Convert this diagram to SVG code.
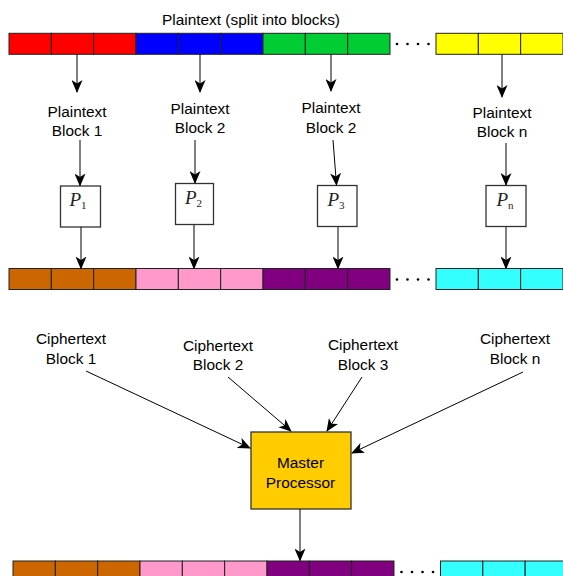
<svg xmlns="http://www.w3.org/2000/svg" width="563" height="576" viewBox="0 0 563 576">
<style>
  .t { font-family: "Liberation Sans", Arial, sans-serif; font-size: 15.4px; fill: #000; text-anchor: middle; }
  .cell { stroke: #222; stroke-width: 1; }
  .red { fill: #FF0000; } .blue { fill: #0000FF; } .green { fill: #00CC33; } .yellow { fill: #FFFF00; }
  .orange { fill: #CC6600; } .pink { fill: #FF99CC; } .purple { fill: #800080; } .cyan { fill: #33FFFF; }
  .pbox { fill: #fff; stroke: #333; stroke-width: 1.3; }
  .pl { font-family: "Liberation Serif", "Times New Roman", serif; font-style: italic; font-size: 19px; fill: #222; text-anchor: middle; }
  .sub { font-style: normal; font-size: 11px; }
  .edge { stroke: #000; stroke-width: 1; fill: none; marker-end: url(#arr); }
  .dot { fill: #000; }
</style>
<defs>
  <marker id="arr" markerUnits="userSpaceOnUse" viewBox="0 0 13 11" refX="12" refY="5.5" markerWidth="13" markerHeight="11" orient="auto">
    <path d="M0,0 L13,5.5 L0,11 L3.5,5.5 z" fill="#000"/>
  </marker>
</defs>

<text class="t" x="251" y="25">Plaintext (split into blocks)</text>

<g id="plaintext-bar">
  <rect class="cell red" x="9" y="33.3" width="42.33" height="21"/>
  <rect class="cell red" x="51.33" y="33.3" width="42.33" height="21"/>
  <rect class="cell red" x="93.66" y="33.3" width="42.33" height="21"/>
  <rect class="cell blue" x="136" y="33.3" width="42.33" height="21"/>
  <rect class="cell blue" x="178.33" y="33.3" width="42.33" height="21"/>
  <rect class="cell blue" x="220.66" y="33.3" width="42.33" height="21"/>
  <rect class="cell green" x="263" y="33.3" width="42.33" height="21"/>
  <rect class="cell green" x="305.33" y="33.3" width="42.33" height="21"/>
  <rect class="cell green" x="347.66" y="33.3" width="42.33" height="21"/>
  <circle class="dot" cx="397" cy="44" r="1.3"/>
  <circle class="dot" cx="407.5" cy="44" r="1.3"/>
  <circle class="dot" cx="418" cy="44" r="1.3"/>
  <circle class="dot" cx="428.5" cy="44" r="1.3"/>
  <rect class="cell yellow" x="436" y="33.3" width="42.33" height="21"/>
  <rect class="cell yellow" x="478.33" y="33.3" width="42.33" height="21"/>
  <rect class="cell yellow" x="520.66" y="33.3" width="42.33" height="21"/>
</g>

<g id="label-pb1"><text class="t" x="77" y="117">Plaintext</text><text class="t" x="77" y="136">Block 1</text></g>
<g id="label-pb2"><text class="t" x="200" y="114">Plaintext</text><text class="t" x="200" y="133">Block 2</text></g>
<g id="label-pb3"><text class="t" x="331" y="113">Plaintext</text><text class="t" x="331" y="133">Block 2</text></g>
<g id="label-pbn"><text class="t" x="502" y="118">Plaintext</text><text class="t" x="502" y="137">Block n</text></g>

<g id="p1"><rect class="pbox" x="60.5" y="186" width="40" height="41"/><text class="pl" x="78" y="206">P<tspan class="sub" dy="3">1</tspan></text></g>
<g id="p2"><rect class="pbox" x="175.5" y="183.5" width="38" height="41"/><text class="pl" x="193.5" y="204">P<tspan class="sub" dy="3">2</tspan></text></g>
<g id="p3"><rect class="pbox" x="317.5" y="185.5" width="39.5" height="41"/><text class="pl" x="336" y="206">P<tspan class="sub" dy="3">3</tspan></text></g>
<g id="pn"><rect class="pbox" x="486" y="185.5" width="40" height="41"/><text class="pl" x="505" y="206">P<tspan class="sub" dy="3" font-style="italic">n</tspan></text></g>

<g id="ciphertext-bar">
  <rect class="cell orange" x="9" y="268.5" width="42.33" height="21"/>
  <rect class="cell orange" x="51.33" y="268.5" width="42.33" height="21"/>
  <rect class="cell orange" x="93.66" y="268.5" width="42.33" height="21"/>
  <rect class="cell pink" x="136" y="268.5" width="42.33" height="21"/>
  <rect class="cell pink" x="178.33" y="268.5" width="42.33" height="21"/>
  <rect class="cell pink" x="220.66" y="268.5" width="42.33" height="21"/>
  <rect class="cell purple" x="263" y="268.5" width="42.33" height="21"/>
  <rect class="cell purple" x="305.33" y="268.5" width="42.33" height="21"/>
  <rect class="cell purple" x="347.66" y="268.5" width="42.33" height="21"/>
  <circle class="dot" cx="397" cy="279.5" r="1.3"/>
  <circle class="dot" cx="407.5" cy="279.5" r="1.3"/>
  <circle class="dot" cx="418" cy="279.5" r="1.3"/>
  <circle class="dot" cx="428.5" cy="279.5" r="1.3"/>
  <rect class="cell cyan" x="436" y="268.5" width="42.33" height="21"/>
  <rect class="cell cyan" x="478.33" y="268.5" width="42.33" height="21"/>
  <rect class="cell cyan" x="520.66" y="268.5" width="42.33" height="21"/>
</g>

<g id="label-cb1"><text class="t" x="71" y="344">Ciphertext</text><text class="t" x="71" y="364">Block 1</text></g>
<g id="label-cb2"><text class="t" x="218" y="351">Ciphertext</text><text class="t" x="218" y="370">Block 2</text></g>
<g id="label-cb3"><text class="t" x="363" y="350">Ciphertext</text><text class="t" x="363" y="370">Block 3</text></g>
<g id="label-cbn"><text class="t" x="515" y="344">Ciphertext</text><text class="t" x="515" y="364">Block n</text></g>

<g id="master">
  <rect x="251" y="432" width="100" height="77" fill="#FFCC00" stroke="#333" stroke-width="1.3"/>
  <text class="t" x="300.5" y="468">Master</text>
  <text class="t" x="300.5" y="488">Processor</text>
</g>

<g id="result-bar">
  <rect class="cell orange" x="13" y="561" width="42.33" height="21"/>
  <rect class="cell orange" x="55.33" y="561" width="42.33" height="21"/>
  <rect class="cell orange" x="97.66" y="561" width="42.33" height="21"/>
  <rect class="cell pink" x="140" y="561" width="42.33" height="21"/>
  <rect class="cell pink" x="182.33" y="561" width="42.33" height="21"/>
  <rect class="cell pink" x="224.66" y="561" width="42.33" height="21"/>
  <rect class="cell purple" x="267" y="561" width="42.33" height="21"/>
  <rect class="cell purple" x="309.33" y="561" width="42.33" height="21"/>
  <rect class="cell purple" x="351.66" y="561" width="42.33" height="21"/>
  <circle class="dot" cx="401.5" cy="572" r="1.3"/>
  <circle class="dot" cx="412" cy="572" r="1.3"/>
  <circle class="dot" cx="422.5" cy="572" r="1.3"/>
  <circle class="dot" cx="433" cy="572" r="1.3"/>
  <rect class="cell cyan" x="440.5" y="561" width="42.33" height="21"/>
  <rect class="cell cyan" x="482.83" y="561" width="42.33" height="21"/>
  <rect class="cell cyan" x="525.16" y="561" width="42.33" height="21"/>
</g>

<g id="connectors">
  <line class="edge" x1="77" y1="54.5" x2="77" y2="92"/>
  <line class="edge" x1="200" y1="54.5" x2="200" y2="92"/>
  <line class="edge" x1="331" y1="54.5" x2="331" y2="91"/>
  <line class="edge" x1="502" y1="54.5" x2="502" y2="97"/>

  <line class="edge" x1="80" y1="140" x2="80" y2="185.5"/>
  <line class="edge" x1="195" y1="140" x2="195" y2="183"/>
  <line class="edge" x1="333" y1="140" x2="336.5" y2="185"/>
  <line class="edge" x1="506" y1="143" x2="506" y2="185"/>

  <line class="edge" x1="81" y1="227" x2="81" y2="268.5"/>
  <line class="edge" x1="194" y1="225" x2="194" y2="268.5"/>
  <line class="edge" x1="338" y1="227" x2="338" y2="268.5"/>
  <line class="edge" x1="506" y1="227" x2="506" y2="268.5"/>

  <line class="edge" x1="86" y1="371" x2="250" y2="448"/>
  <line class="edge" x1="228" y1="377" x2="291" y2="431"/>
  <line class="edge" x1="362" y1="377" x2="327" y2="431"/>
  <line class="edge" x1="523" y1="372" x2="352" y2="453"/>

  <line class="edge" x1="300" y1="509" x2="300" y2="560.5"/>
</g>
</svg>
